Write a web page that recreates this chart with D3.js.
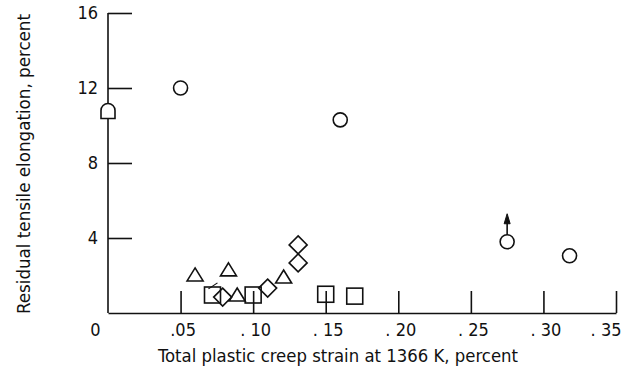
<!DOCTYPE html>
<html>
<head>
<meta charset="utf-8">
<script src="https://cdn.jsdelivr.net/npm/d3@7"></script>
<style>
  html, body { margin: 0; padding: 0; background: #fff; }
  svg { display: block; }
  text { font-family: "DejaVu Sans Condensed", "DejaVu Sans", sans-serif; fill: #111; }
</style>
</head>
<body>
<div id="chart"></div>
<script>
// values (x: creep strain %, y: residual elongation %)
const circleX   = [0.050, 0.160, 0.275, 0.318];
const circleY   = [12.0, 10.3, 3.8, 3.05];
const squareX   = [0.072, 0.100, 0.150, 0.170];
const squareY   = [0.96, 0.96, 1.0, 0.9];
const flagSqX   = [0.0];
const flagSqY   = [10.75];
const diamondX  = [0.079, 0.110, 0.131, 0.131];
const diamondY  = [0.85, 1.33, 3.63, 2.67];
const triangleX = [0.060, 0.083, 0.089, 0.121];
const triangleY = [2.03, 2.3, 0.96, 1.92];
const arrowIdx  = [2];   // circle that runs off (arrow up)
const tailIdx   = [1];   // triangle with a short tail

const xTicks = [0, 0.05, 0.10, 0.15, 0.20, 0.25, 0.30, 0.35];
const xTickLabels = ['0', '.05', '. 10', '. 15', '. 20', '. 25', '. 30', '. 35'];
const yTicks = [4, 8, 12, 16];

const width = 625, height = 370;
const margin = { top: 13, right: 9, bottom: 57, left: 108 };

const svg = d3.select('#chart').append('svg')
  .attr('width', width).attr('height', height);

const x = d3.scaleLinear().domain([0, 0.35]).range([margin.left, width - margin.right]);
const y = d3.scaleLinear().domain([0, 16]).range([height - margin.bottom, margin.top]);

const stroke = '#111';

// axes: ticks point inward
const xAxis = svg.append('g')
  .attr('transform', `translate(0, ${y(0)})`)
  .call(d3.axisBottom(x)
    .tickValues(xTicks)
    .tickFormat((d, i) => xTickLabels[i])
    .tickSizeInner(-22)
    .tickSizeOuter(0)
    .tickPadding(10));
xAxis.select('.domain').attr('stroke', stroke).attr('stroke-width', 1.6);
xAxis.selectAll('.tick line').attr('stroke', stroke).attr('stroke-width', 1.6);
const last = xTicks.length - 1;
xAxis.selectAll('.tick text')
  .attr('font-size', 18).attr('fill', '#111')
  .attr('font-family', '"DejaVu Sans Condensed", sans-serif')
  .attr('text-anchor', (d, i) => i === last ? 'end' : 'middle')
  .attr('dx', (d, i) => i === 0 ? -13 : (i === last ? 5 : 2));
xAxis.selectAll('.tick').filter(d => d === 0).select('line').remove();

const yAxis = svg.append('g')
  .attr('transform', `translate(${x(0)}, 0)`)
  .call(d3.axisLeft(y)
    .tickValues(yTicks)
    .tickSizeInner(-24)
    .tickSizeOuter(0)
    .tickPadding(10));
yAxis.select('.domain').attr('stroke', stroke).attr('stroke-width', 1.6)
  .attr('d', `M0,${y(0)}V${y(16)}`);
yAxis.selectAll('.tick line').attr('stroke', stroke).attr('stroke-width', 1.6);
yAxis.selectAll('.tick text')
  .attr('font-size', 18).attr('fill', '#111')
  .attr('font-family', '"DejaVu Sans Condensed", sans-serif');

// axis titles
svg.append('text')
  .attr('x', 338).attr('y', 362)
  .attr('text-anchor', 'middle')
  .attr('font-size', 18)
  .attr('textLength', 360).attr('lengthAdjust', 'spacingAndGlyphs')
  .text('Total plastic creep strain at 1366 K, percent');

svg.append('text')
  .attr('transform', `translate(30, 164) rotate(-90)`)
  .attr('text-anchor', 'middle')
  .attr('font-size', 18)
  .attr('textLength', 300).attr('lengthAdjust', 'spacingAndGlyphs')
  .text('Residual tensile elongation, percent');

// markers
const marks = svg.append('g')
  .attr('fill', 'none').attr('stroke', stroke).attr('stroke-width', 1.6);

const pts = (xs, ys) => xs.map((v, i) => ({ x: v, y: ys[i], i }));

marks.selectAll('.circ').data(pts(circleX, circleY)).enter()
  .append('circle').attr('class', 'circ')
  .attr('cx', d => x(d.x)).attr('cy', d => y(d.y)).attr('r', 7);

// arrow above the run-off circle
const arrows = pts(circleX, circleY).filter(d => arrowIdx.includes(d.i));
marks.selectAll('.arr').data(arrows).enter()
  .append('line').attr('class', 'arr')
  .attr('x1', d => x(d.x)).attr('x2', d => x(d.x))
  .attr('y1', d => y(d.y) - 7).attr('y2', d => y(d.y) - 20);
marks.selectAll('.arrh').data(arrows).enter()
  .append('path').attr('class', 'arrh')
  .attr('transform', d => `translate(${x(d.x)}, ${y(d.y) - 20})`)
  .attr('d', 'M0,-8 L3,2 L-3,2 Z')
  .attr('fill', stroke).attr('stroke-width', 1);

marks.selectAll('.sq').data(pts(squareX, squareY)).enter()
  .append('rect').attr('class', 'sq')
  .attr('x', d => x(d.x) - 8).attr('y', d => y(d.y) - 8)
  .attr('width', 16).attr('height', 16);

marks.selectAll('.fsq').data(pts(flagSqX, flagSqY)).enter()
  .append('path').attr('class', 'fsq')
  .attr('transform', d => `translate(${x(d.x)}, ${y(d.y)})`)
  .attr('d', 'M-7,7 L-7,-1 A7,7 0 0 1 7,-1 L7,7 Z')
  .attr('fill', '#fff');

marks.selectAll('.dia').data(pts(diamondX, diamondY)).enter()
  .append('path').attr('class', 'dia')
  .attr('transform', d => `translate(${x(d.x)}, ${y(d.y)})`)
  .attr('d', 'M0,-9 L9,0 L0,9 L-9,0 Z');

marks.selectAll('.tri').data(pts(triangleX, triangleY)).enter()
  .append('path').attr('class', 'tri')
  .attr('transform', d => `translate(${x(d.x)}, ${y(d.y)})`)
  .attr('d', 'M0,-7 L8,6 L-8,6 Z');

marks.selectAll('.tail').data(pts(triangleX, triangleY).filter(d => tailIdx.includes(d.i))).enter()
  .append('line').attr('class', 'tail')
  .attr('x1', d => x(d.x) - 11).attr('y1', d => y(d.y) + 13)
  .attr('x2', d => x(d.x) - 20).attr('y2', d => y(d.y) + 19)
  .attr('stroke-width', 1.2);
</script>
</body>
</html>
